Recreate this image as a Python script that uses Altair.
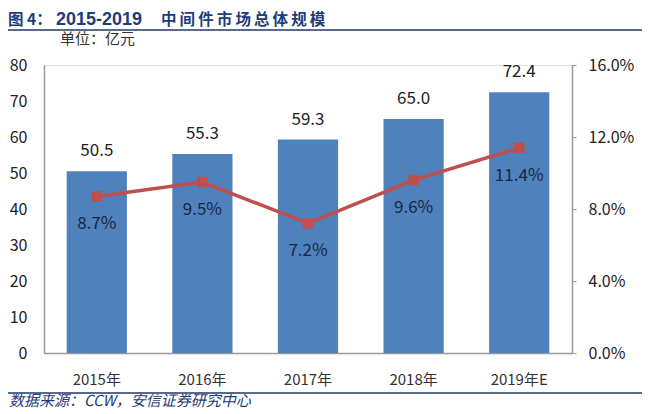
import altair as alt
import pandas as pd

years = ["2015年", "2016年", "2017年", "2018年", "2019年E"]
market = [50.5, 55.3, 59.3, 65.0, 72.4]
growth = [8.7, 9.5, 7.2, 9.6, 11.4]

df = pd.DataFrame({
    "year": years,
    "market": market,
    "growth": [g / 100 for g in growth],
    "mlabel": [f"{v:.1f}" for v in market],
    "glabel": [f"{g:.1f}%" for g in growth],
})

FONT = "Noto Sans CJK SC"
W, H = 528, 288

x = alt.X("year:N", sort=years, title=None,
          scale=alt.Scale(paddingInner=0.43, paddingOuter=0.215),
          axis=alt.Axis(labelAngle=0, labelFontSize=15, labelColor="#333333",
                        labelFont=FONT, ticks=False, domainColor="#999999",
                        labelPadding=19, domainWidth=1.5))

yl = alt.Y("market:Q", title=None,
           scale=alt.Scale(domain=[0, 80]),
           axis=alt.Axis(values=[0, 10, 20, 30, 40, 50, 60, 70, 80], grid=False,
                         ticks=False, domainColor="#999999", domainWidth=1.5,
                         labelFontSize=16, labelColor="#222222", labelFont=FONT,
                         labelPadding=17))

yr = alt.Y("growth:Q", title=None, scale=alt.Scale(domain=[0, 0.16]),
           axis=alt.Axis(orient="right", format=".1%", values=[0, 0.04, 0.08, 0.12, 0.16],
                         grid=False, tickSize=4, tickColor="#999999",
                         domainColor="#999999", domainWidth=1.5,
                         labelFontSize=16, labelColor="#222222", labelFont=FONT,
                         labelPadding=12))

base = alt.Chart(df)

bars = base.mark_bar(color="#4F81BD").encode(x=x, y=yl)
bar_text = base.mark_text(dy=-20, fontSize=17, color="#222222", font=FONT).encode(
    x=x, y=yl, text="mlabel:N")
left = alt.layer(bars, bar_text)

line = base.mark_line(color="#C0504D", strokeWidth=3.5).encode(x=x, y=yr)
pts = base.mark_square(color="#C0504D", size=110, opacity=1).encode(x=x, y=yr)
g_text = base.mark_text(dy=28, fontSize=17, color="#1A2744", font=FONT).encode(
    x=x, y=yr, text="glabel:N")
right = alt.layer(line, pts, g_text)

# decorations (pixel positions relative to plot area)
TITLE_C = "#1F3C7A"
def txt(s, xp, yp, **kw):
    return alt.Chart(pd.DataFrame({"t": [s]})).mark_text(
        align="left", baseline="middle", **kw).encode(
        x=alt.value(xp), y=alt.value(yp), text="t:N")

TY = -45
title1 = txt("图 4：", -36, TY, fontSize=15.5, fontWeight="bold", color=TITLE_C, font=FONT)
title2 = txt("2015-2019", 12, TY, fontSize=18, fontWeight="bold", color=TITLE_C,
             font="Liberation Sans")
title3 = txt("\u2009".join("中间件市场总体规模"), 117, TY, fontSize=15.5, fontWeight="bold",
             color=TITLE_C, font=FONT)
title_rule = alt.Chart(pd.DataFrame({"a": [0]})).mark_rule(
    color="#1F3864", strokeWidth=1.5).encode(x=alt.value(-36), x2=alt.value(601),
                                             y=alt.value(-35))
unit_txt = txt("单位：亿元", 16, -26, fontSize=15, color="#333333", font=FONT)
bottom_rule = alt.Chart(pd.DataFrame({"a": [0]})).mark_rule(
    color="#1F3864", strokeWidth=1.5).encode(x=alt.value(-36), x2=alt.value(601),
                                             y=alt.value(H + 40))
src_txt = txt("数据来源：CCW，安信证券研究中心", -35, H + 48, fontSize=15,
              fontStyle="italic", color=TITLE_C, font=FONT)

chart = alt.layer(left, right, title1, title2, title3, title_rule, unit_txt,
                  bottom_rule, src_txt).resolve_scale(
    y="independent"
).properties(
    width=W, height=H,
    autosize=alt.AutoSizeParams(type="none"),
    padding={"left": 36, "top": 57, "right": 70, "bottom": 61},
).configure_view(strokeWidth=0).configure(background="white")

chart.save("out.html", embed_options={"renderer": "svg", "actions": False})
